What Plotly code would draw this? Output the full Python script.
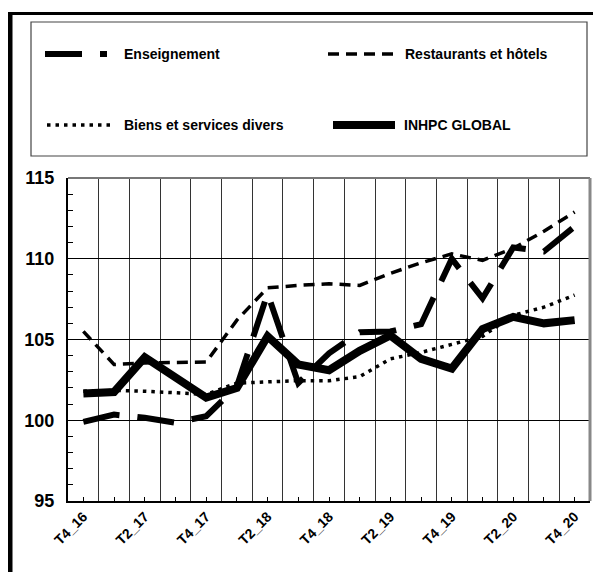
import plotly.graph_objects as go

quarters = ["T4_16", "T1_17", "T2_17", "T3_17", "T4_17", "T1_18", "T2_18", "T3_18", "T4_18",
            "T1_19", "T2_19", "T3_19", "T4_19", "T1_20", "T2_20", "T3_20", "T4_20"]

enseignement = [99.9, 100.35, 100.15, 99.85, 100.25, 102.1, 107.85, 102.3, 104.15,
                105.45, 105.5, 105.95, 110.0, 107.55, 110.7, 110.45, 112.0]
restaurants = [105.5, 103.45, 103.55, 103.55, 103.6, 106.2, 108.2, 108.35, 108.45,
               108.35, 109.1, 109.75, 110.3, 109.9, 110.65, 111.7, 112.9]
biens = [101.8, 101.85, 101.8, 101.7, 101.6, 102.3, 102.4, 102.45, 102.45,
         102.7, 103.8, 104.2, 104.7, 105.2, 106.5, 107.0, 107.75]
inhpc = [101.65, 101.75, 103.9, 102.65, 101.4, 102.0, 105.2, 103.45, 103.1,
         104.3, 105.25, 103.8, 103.2, 105.65, 106.4, 106.0, 106.2]

idx = list(range(len(quarters)))
tick_text = [q if i % 2 == 0 else "" for i, q in enumerate(quarters)]

FONT = "Liberation Sans, Arial, sans-serif"

# style of each series (also used for the hand-made legend)
series = [
    ("Enseignement", enseignement, dict(color="black", width=6, dash="37px,18px")),
    ("Restaurants et hôtels", restaurants, dict(color="black", width=3.5, dash="11px,7px")),
    ("Biens et services divers", biens, dict(color="black", width=3.5, dash="3.5px,5px")),
    ("INHPC GLOBAL", inhpc, dict(color="black", width=8)),
]

fig = go.Figure()
for name, vals, line in series:
    fig.add_trace(go.Scatter(x=idx, y=vals, name=name, mode="lines", line=line,
                             showlegend=False, hoverinfo="x+y+name"))

# the page body adds an 8px margin, so the figure is a bit smaller than the window
OFF = 8
W, H = 601 - OFF, 572 - OFF
L, R, T, B = 60, 11, 170, 71
pw, ph = W - L - R, H - T - B


def px(x):  # page pixel -> paper x
    return (x - OFF - L) / pw


def py(y):  # page pixel -> paper y
    return (H - B - (y - OFF)) / ph


shapes = [
    # outer frame
    dict(type="line", xref="paper", yref="paper", x0=px(10), x1=px(10), y0=py(13), y1=py(600),
         line=dict(color="black", width=5)),
    dict(type="line", xref="paper", yref="paper", x0=px(8), x1=px(600), y0=py(13.5), y1=py(13.5),
         line=dict(color="black", width=3)),
    dict(type="line", xref="paper", yref="paper", x0=px(598), x1=px(598), y0=py(13), y1=py(600),
         line=dict(color="#9a9a9a", width=2)),
    # legend box
    dict(type="rect", xref="paper", yref="paper", x0=px(31), x1=px(587), y0=py(22), y1=py(156),
         line=dict(color="#444", width=1.2)),
    # plot area border top/right
    dict(type="line", xref="paper", yref="paper", x0=0, x1=1, y0=1, y1=1,
         line=dict(color="#777", width=2)),
    dict(type="line", xref="paper", yref="paper", x0=1, x1=1, y0=0, y1=1,
         line=dict(color="#888", width=3)),
]

legend_pos = [
    (45, 107, 122, 54),
    (328, 396, 403, 54),
    (47, 110, 122, 125),
    (333, 395, 402, 125),
]
annotations = []
for (name, _, line), (x0, x1, xt, yy) in zip(series, legend_pos):
    shapes.append(dict(type="line", xref="paper", yref="paper", x0=px(x0), x1=px(x1),
                       y0=py(yy), y1=py(yy), line=line))
    annotations.append(dict(text=name, xref="paper", yref="paper", x=px(xt), y=py(yy),
                            xanchor="left", yanchor="middle", showarrow=False,
                            font=dict(family=FONT, size=14, color="black", weight="bold")))

fig.update_layout(
    width=W, height=H,
    margin=dict(l=L, r=R, t=T, b=B, autoexpand=False),
    paper_bgcolor="white", plot_bgcolor="white",
    font=dict(family=FONT, color="black", weight="bold"),
    shapes=shapes,
    annotations=annotations,
)

fig.update_xaxes(
    range=[-0.5, len(quarters) - 0.5], automargin=False,
    tickmode="array", tickvals=idx, ticktext=tick_text, tickangle=-45,
    ticks="inside", ticklen=4, tickcolor="black",
    showgrid=False, zeroline=False,
    showline=True, linecolor="black", linewidth=2,
    tickfont=dict(family=FONT, size=14, weight="bold"),
    minor=dict(tickvals=[i - 0.5 for i in idx] + [len(quarters) - 0.5],
               showgrid=True, gridcolor="#333", gridwidth=1, ticks=""),
)
fig.update_yaxes(
    range=[95, 115], dtick=5, automargin=False,
    showgrid=True, gridcolor="black", gridwidth=1, zeroline=False,
    showline=True, linecolor="black", linewidth=2,
    ticks="", ticklabelstandoff=8,
    tickfont=dict(family=FONT, size=18, weight="bold"),
    minor=dict(dtick=1, ticks="inside", ticklen=5, tickcolor="black", showgrid=False),
)

fig.write_html("out.html")
